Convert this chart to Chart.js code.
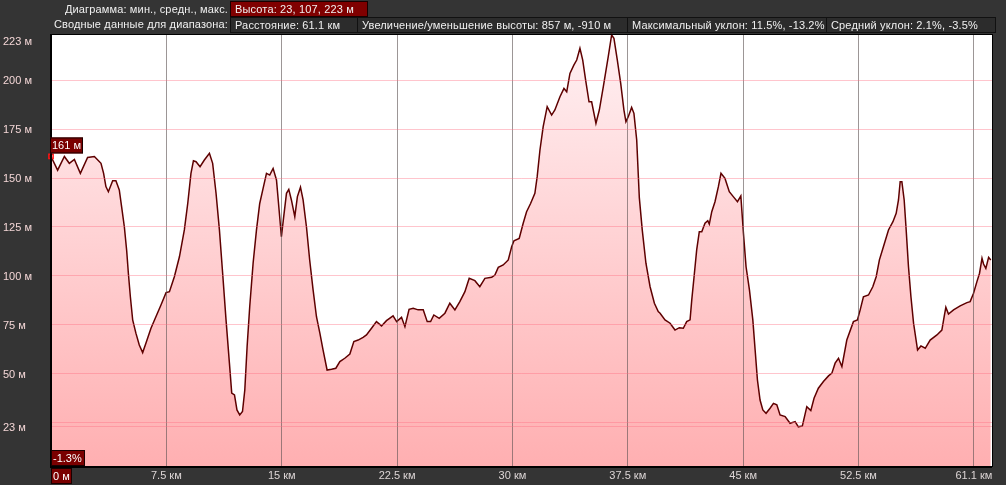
<!DOCTYPE html>
<html>
<head>
<meta charset="utf-8">
<script src="https://cdn.jsdelivr.net/npm/chart.js@4.4.1/dist/chart.umd.min.js"></script>
<style>
    body { margin: 0; background: #343434; }
    #wrap { position: relative; width: 1006px; height: 485px; background: #343434; overflow: hidden; }
    #wrap canvas { position: absolute; left: 0; top: 0; }
    .lbl, .box { position: absolute; font: 11px "Liberation Sans", Arial, sans-serif; letter-spacing: 0.15px; color: #f0f0f0; line-height: 13px; white-space: nowrap; }
    .lbl { text-align: right; width: 228px; left: 0; }
    .box { box-sizing: border-box; height: 16px; padding: 1px 0 0 4px; border: 1px solid #111; background: #2c2c2c; }
    .box.red { background: #800000; border-color: #1a0000; }
</style>
</head>
<body>
<div id="wrap">
    <canvas id="profileChart" width="1006" height="485"></canvas>
    <div class="lbl" style="top:3px">Диаграмма: мин., средн., макс.</div>
    <div class="box red" style="left:230px; top:1px; width:138px">Высота: 23, 107, 223 м</div>
    <div class="lbl" style="top:18px">Сводные данные для диапазона:</div>
    <div class="box" style="left:230px; top:17px; width:128px">Расстояние: 61.1 км</div>
    <div class="box" style="left:357px; top:17px; width:271px">Увеличение/уменьшение высоты: 857 м, -910 м</div>
    <div class="box" style="left:627px; top:17px; width:200px">Максимальный уклон: 11.5%, -13.2%</div>
    <div class="box" style="left:826px; top:17px; width:170px">Средний уклон: 2.1%, -3.5%</div>
</div>
<script>
(function() {
    // профиль: расстояние (км) и высота (м)
    const distKm = [0,0.43,0.87,1.19,1.52,1.91,2.38,2.82,3.25,3.42,3.57,3.73,4.01,4.22,4.44,4.59,4.77,4.92,5.03,5.16,
        5.31,5.52,5.74,5.96,6.17,6.50,6.82,7.15,7.48,7.70,8.02,8.35,8.67,8.89,9.10,9.26,9.43,9.69,9.97,10.30,
        10.51,10.73,10.95,11.16,11.38,11.60,11.75,11.93,12.09,
        12.27,12.45,12.60,12.75,12.92,13.14,13.36,13.57,13.79,14.01,14.22,14.44,14.66,14.83,14.98,15.13,15.31,15.46,15.63,15.85,
        16.02,16.22,16.39,16.61,16.82,17.04,17.26,17.48,17.69,17.95,18.24,18.52,18.78,19.10,19.43,19.69,19.97,20.29,20.51,20.84,
        21.16,21.49,21.81,22.24,22.47,22.79,23.01,23.28,23.55,23.87,
        24.20,24.46,24.68,24.89,25.24,25.61,25.93,26.26,26.58,26.91,27.19,27.56,27.88,28.21,28.65,28.86,29.08,29.40,29.73,29.95,
        30.10,30.44,30.70,30.92,31.18,31.46,31.61,31.79,32.00,32.26,32.55,32.76,33.09,33.35,33.53,33.74,34.00,34.18,34.39,34.57,
        34.76,34.98,35.15,35.43,35.65,35.91,36.23,36.45,36.60,36.82,37.04,37.25,37.38,37.53,37.75,37.90,38.08,38.25,38.44,38.68,
        38.95,39.23,39.48,
        39.60,39.92,40.25,40.57,40.85,41.11,41.33,41.55,41.66,41.81,41.98,42.15,42.31,42.52,42.70,42.80,42.96,43.17,43.39,43.56,
        43.82,44.10,44.36,44.63,44.85,45.02,45.19,45.41,45.63,45.78,45.93,46.10,46.28,46.49,46.75,46.97,47.19,47.40,47.73,48.05,
        48.38,48.59,48.85,49.14,49.40,49.61,49.89,50.22,50.55,50.77,50.98,51.20,
        51.42,51.74,52.17,52.43,52.61,52.82,53.15,53.43,53.65,53.86,54.12,54.45,54.74,54.95,55.10,55.21,55.32,55.47,55.60,55.75,
        55.91,56.08,56.34,56.56,56.84,57.16,57.60,57.92,58.07,58.18,58.35,58.68,59.11,59.55,59.76,59.98,60.20,60.37,60.53,60.63,
        60.78,60.96,61.10];
    const elevM = [161,154,161,157.5,159.5,152.4,160.5,161,157.5,152.4,145.6,143,148.6,148.6,143.9,135.4,125,113,101.4,89.4,
        77.6,70.8,64.8,60.9,65.7,73.3,79.2,85.2,91.5,92,99.6,109.8,123.5,137,152.4,158.8,158.3,155.8,159.2,162.6,
        157.5,142.2,123.5,101.4,77.6,55.5,40.2,39.3,31.6,
        29.1,30.8,41.8,63.9,84.3,106.5,123.5,137,144.7,152.4,151.5,154.9,149,133.7,120,130.3,142.2,144.2,138.8,130.3,
        140.5,145.3,138.8,125,108,92.9,79.2,70.8,62.2,52,52.4,52.9,56.3,58,60.2,66.5,67.3,68.7,69.9,73.3,
        76.7,74.5,77.2,79.6,76.7,78.9,74.1,83,83.5,82.7,
        82.7,76.7,76.7,80.1,78.4,81,86.1,82.7,86.9,92,98.8,97.6,94.5,98.8,99.3,100.5,104.4,105.6,108.2,114.9,
        118,119.2,126.9,132.8,137,142.2,150.7,164.3,176.2,186.4,182.1,184.7,191.5,195.7,194,203.4,207.7,210.2,216.2,210.2,
        200,188.9,188.9,177.9,184.7,196.6,211.9,223,221.3,210.2,198.3,184.7,178.7,181.3,186,183,169.4,140,123.5,106.5,
        94.5,86.1,81.8,
        81,77.6,75.9,72.4,73.6,73.3,76.7,77.6,87.8,99.6,113.3,122.6,122.6,126.9,128.2,126.5,132.8,137.9,145.6,152.4,
        149.8,143,140.5,137.9,140.8,121.8,104.7,92.9,77.6,62.2,46.9,36.7,31.6,29.9,32.5,35,34.2,29.1,28.2,24.8,
        25.7,23,23.5,33.3,31.3,37.6,42.7,46.1,49,50.4,55.5,58,
        53.7,67.3,76.7,77.6,82.7,89.4,90.3,94.5,99.6,108.2,114.9,123.5,127.7,132,138.8,148.1,148.1,138.8,123.5,104.7,
        89.4,75.9,62.2,64.3,63.1,67.3,69.9,72.4,79.2,84,80.6,82.7,84.7,86.4,86.9,91.2,97.1,101.4,109,106.1,
        103.9,109.5,108.2];

    const yTicks = [23, 25, 50, 75, 100, 125, 150, 175, 200, 223];
    const yLabels = [223, 200, 175, 150, 125, 100, 75, 50, 23];
    const xTicks = [0, 7.5, 15, 22.5, 30, 37.5, 45, 52.5, 60];
    const xLabels = ['0 м', '7.5 км', '15 км', '22.5 км', '30 км', '37.5 км', '45 км', '52.5 км', '61.1 км'];
    const startLabel = '161 м';
    const slopeLabel = '-1.3%';

    const points = distKm.map((d, i) => ({ x: d, y: elevM[i] }));
    const FONT = '11px "Liberation Sans", Arial, sans-serif';

    function redBox(ctx, x, y, w, h, text) {
        ctx.fillStyle = '#7a0000';
        ctx.fillRect(x, y, w, h);
        ctx.strokeStyle = '#1a0000';
        ctx.lineWidth = 1;
        ctx.strokeRect(x + 0.5, y + 0.5, w - 1, h - 1);
        ctx.fillStyle = '#ffffff';
        ctx.textAlign = 'left';
        ctx.textBaseline = 'middle';
        ctx.fillText(text, x + 2, y + h / 2 + 1);
    }

    // белый фон области графика
    const areaBg = {
        id: 'areaBg',
        beforeDraw(chart) {
            const a = chart.chartArea;
            chart.ctx.save();
            chart.ctx.fillStyle = '#ffffff';
            chart.ctx.fillRect(a.left, a.top, a.right - a.left, a.bottom - a.top);
            chart.ctx.restore();
        }
    };

    const labelsPlugin = {
        id: 'profileLabels',
        afterDraw(chart) {
            const ctx = chart.ctx;
            const area = chart.chartArea;
            const xs = chart.scales.x, ys = chart.scales.y;
            ctx.save();
            // рамка
            ctx.strokeStyle = '#000';
            ctx.lineWidth = 2;
            ctx.beginPath();
            ctx.moveTo(area.left, area.top);
            ctx.lineTo(area.left, area.bottom);
            ctx.lineTo(area.right, area.bottom);
            ctx.stroke();
            ctx.lineWidth = 1;
            ctx.beginPath();
            ctx.moveTo(area.left, area.top + 0.5);
            ctx.lineTo(area.right + 1, area.top + 0.5);
            ctx.moveTo(area.right + 0.5, area.top);
            ctx.lineTo(area.right + 0.5, area.bottom);
            ctx.stroke();

            ctx.font = FONT;
            ctx.textBaseline = 'middle';
            ctx.textAlign = 'left';
            ctx.fillStyle = '#f3d6d6';
            yLabels.forEach(v => {
                const py = Math.max(ys.getPixelForValue(v), area.top + 7);
                ctx.fillText(v + ' м', 3, py + 1);
            });

            ctx.textAlign = 'center';
            ctx.fillStyle = '#ddd6d6';
            xTicks.forEach((v, i) => {
                if (i === 0) return;
                ctx.fillText(xLabels[i], xs.getPixelForValue(v), area.bottom + 9);
            });

            redBox(ctx, area.left, area.bottom + 1, 21, 16, xLabels[0]);
            redBox(ctx, area.left, area.bottom - 17, 34, 16, slopeLabel);
            const py0 = ys.getPixelForValue(elevM[0]);
            redBox(ctx, area.left - 1, py0 - 19, 33, 16, startLabel);
            ctx.restore();
        }
    };

    const config = {
        type: 'line',
        data: {
            datasets: [{
                data: points,
                borderColor: '#5e0000',
                borderWidth: 1.5,
                tension: 0,
                fill: 'start',
                clip: 6,
                backgroundColor: function(context) {
                    const area = context.chart.chartArea;
                    if (!area) return '#ffc8c8';
                    const g = context.chart.ctx.createLinearGradient(0, area.top, 0, area.bottom);
                    g.addColorStop(0, '#fff1f3');
                    g.addColorStop(1, '#ffafb1');
                    return g;
                },
                pointStyle: 'rect',
                pointRadius: ctx => ctx.dataIndex === 0 ? 3 : 0,
                pointBorderColor: '#ff1010',
                pointBorderWidth: 1.5,
                pointBackgroundColor: 'rgba(0,0,0,0)',
                pointHoverRadius: 0
            }]
        },
        options: {
            responsive: false,
            animation: false,
            events: [],
            layout: { padding: { left: 51, right: 14, top: 34, bottom: 18 } },
            scales: {
                x: {
                    type: 'linear',
                    min: 0,
                    max: 61.18,
                    afterBuildTicks: s => { s.ticks = xTicks.map(v => ({ value: v })); },
                    ticks: { display: false },
                    grid: { color: 'rgba(90,80,80,0.6)', lineWidth: 1, drawTicks: false, z: 1 },
                    border: { display: false }
                },
                y: {
                    type: 'linear',
                    min: 2.5,
                    max: 223.5,
                    afterBuildTicks: s => { s.ticks = yTicks.map(v => ({ value: v })); },
                    ticks: { display: false },
                    grid: { color: 'rgba(255,110,130,0.4)', lineWidth: 1, drawTicks: false, z: 1 },
                    border: { display: false }
                }
            },
            plugins: {
                legend: { display: false },
                tooltip: { enabled: false }
            }
        },
        plugins: [areaBg, labelsPlugin]
    };

    const ctx = document.getElementById('profileChart').getContext('2d');
    new Chart(ctx, config);
})();
</script>
</body>
</html>
